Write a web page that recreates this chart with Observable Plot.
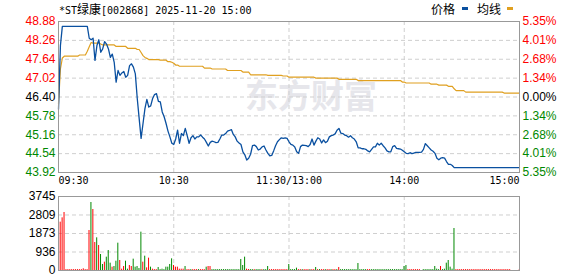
<!DOCTYPE html>
<html><head><meta charset="utf-8">
<script src="https://cdn.jsdelivr.net/npm/d3@7"></script>
<script src="https://cdn.jsdelivr.net/npm/@observablehq/plot@0.6"></script>
<style>
html,body{margin:0;padding:0;background:#fff;}
#wrap{position:relative;width:578px;height:276px;overflow:hidden;background:#fff;}
#title{position:absolute;left:59px;top:3px;line-height:12px;font-size:10px;font-family:"DejaVu Sans Mono",monospace;color:#000;white-space:nowrap;}
#title .cjk{font-family:"Noto Sans CJK SC";font-size:12px;}
.lg{position:absolute;top:2px;line-height:14px;font-family:"Noto Sans CJK SC";font-size:12px;color:#000;white-space:nowrap;}
.sw{position:absolute;top:7px;width:6px;height:3px;}
#p1{position:absolute;left:0;top:0;}
#p2{position:absolute;left:0;top:190px;}
</style>
</head><body>
<div id="wrap">
  <div id="title">*ST<span class="cjk">绿康</span>[002868] 2025-11-20 15:00</div>
  <div class="lg" style="left:431px">价格</div><div class="sw" style="left:462px;background:#0a50a0"></div>
  <div class="lg" style="left:477px">均线</div><div class="sw" style="left:507px;background:#e0a020"></div>
  <div id="p1"></div>
  <div id="p2"></div>
</div>
<script>
const prevClose = 46.40;
const priceTicks = [43.92, 44.54, 45.16, 45.78, 46.40, 47.02, 47.64, 48.26, 48.88];
const pctLabels = ["5.35%", "4.01%", "2.68%", "1.34%", "0.00%", "1.34%", "2.68%", "4.01%", "5.35%"];
const volTicks = [0, 936, 1873, 2809, 3745];
const timeLabels = ["09:30", "10:30", "11:30/13:00", "14:00", "15:00"];
const timeMinutes = [0, 60, 120, 180, 240];

const price = [
46.00,48.09,
48.72,48.72,48.72,48.72,48.72,48.72,48.72,48.72,48.72,48.72,48.72,48.72,48.72,48.72,
48.33,48.28,48.33,47.60,48.09,48.28,47.87,47.98,48.22,48.14,
47.98,47.70,47.81,47.54,46.89,47.27,47.11,47.19,47.24,47.05,
47.11,47.43,47.49,47.38,47.16,46.35,45.69,45.04,45.53,46.02,
46.32,46.07,46.11,46.35,46.48,46.51,46.26,46.24,45.91,45.75,
45.53,45.28,45.09,44.88,44.84,45.02,45.31,44.88,45.20,45.13,
45.37,45.13,44.88,45.06,45.13,45.02,45.09,45.09,45.15,45.08,
45.02,44.91,44.79,44.91,44.95,44.93,44.90,44.91,45.02,45.15,
45.15,45.20,45.28,45.30,45.33,45.17,45.09,44.95,44.89,44.84,
44.60,44.50,44.33,44.39,44.52,44.80,44.82,44.77,44.66,44.69,
44.76,44.79,44.66,44.55,44.47,44.48,44.63,44.80,44.93,45.00,
45.06,45.04,45.06,45.04,44.93,44.84,44.82,44.76,44.60,44.55,
44.77,44.82,44.81,44.80,44.77,44.84,45.02,44.82,44.95,45.06,
45.02,44.89,44.99,44.90,44.95,45.09,45.13,45.15,45.19,45.31,
45.37,45.21,45.20,45.15,45.13,45.08,45.13,45.06,45.02,44.93,
44.73,44.73,44.70,44.70,44.68,44.63,44.60,44.68,44.76,44.76,
44.88,44.82,44.88,44.80,44.73,44.63,44.60,44.60,44.77,44.80,
44.71,44.70,44.69,44.65,44.60,44.55,44.54,44.57,44.54,44.56,
44.58,44.58,44.58,44.59,44.68,44.87,44.80,44.73,44.66,44.62,
44.55,44.39,44.34,44.39,44.41,44.39,44.28,44.19,44.19,44.15,
44.08,44.08,44.08,44.08,44.08,44.08,44.08,44.08,44.08,44.08,
44.08,44.08,44.08,44.08,44.08,44.08,44.08,44.08,44.08,44.08,
44.08,44.08,44.08,44.08,44.08,44.08,44.08,44.08,44.08,44.08,
44.08,44.08,44.08,44.08,44.08
];

const avgPrice = [
46.18,47.32,47.68,
47.74,47.74,47.74,47.74,47.74,47.74,47.74,47.74,
47.78,47.78,47.78,47.78,
47.90,48.05,48.19,
48.17,48.17,48.17,48.17,
48.14,
48.11,48.11,48.11,48.11,48.11,48.11,48.11,
48.06,48.06,48.06,48.06,48.06,48.06,
48.00,48.00,48.00,48.00,48.00,
47.96,47.96,
47.86,47.76,47.70,47.67,
47.63,47.63,47.63,47.63,47.63,47.63,
47.61,47.61,47.61,47.61,
47.56,47.56,47.54,47.51,
47.45,47.45,
47.41,47.41,47.41,47.41,47.41,47.41,47.41,47.41,47.41,47.41,47.41,47.41,47.41,
47.35,47.35,47.35,47.35,
47.32,47.32,47.32,47.32,47.32,47.32,47.32,47.32,
47.27,47.27,47.27,47.27,47.27,47.27,47.27,47.27,
47.22,47.22,47.22,47.22,
47.13,47.13,47.13,47.13,47.13,47.13,47.13,47.13,47.13,
47.11,47.11,47.11,47.11,47.11,47.11,47.11,47.11,
47.09,47.09,47.09,
47.05,47.05,47.05,47.05,47.05,47.05,47.05,47.05,47.05,47.05,47.05,47.05,47.05,47.05,
47.02,47.02,47.02,47.02,47.02,47.02,47.02,47.02,47.02,47.02,47.02,47.02,
46.98,46.98,46.98,46.98,46.98,46.98,46.98,46.98,46.98,46.98,
46.94,46.94,46.94,46.94,46.94,46.94,46.94,46.94,46.94,46.94,46.94,46.94,
46.94,46.94,46.94,46.94,46.94,46.94,46.94,46.94,46.94,46.94,46.94,
46.89,46.89,
46.86,46.86,46.86,46.86,46.86,46.86,46.86,46.86,46.86,46.86,46.86,46.86,46.86,
46.82,46.82,46.82,46.82,
46.79,46.79,46.79,46.79,46.79,
46.75,46.75,46.75,
46.67,
46.61,46.61,46.61,46.61,46.61,
46.56,46.56,46.56,46.56,46.56,46.56,46.56,46.56,46.56,46.56,
46.56,46.56,46.56,46.56,46.56,46.56,46.56,46.56,46.56,46.56,
46.53,46.53,46.53,46.53,46.53,46.53,46.53,46.53,46.53
];

const volume = [
2446,2665,2935,
45,45,45,45,45,45,45,45,45,85,45,45,
2024,3441,3087,1417,1653,1265,810,304,422,675,
1012,371,169,202,472,1383,506,67,202,472,
67,253,202,574,169,202,100,1940,422,725,
135,624,169,67,
45,45,152,45,67,45,169,169,304,590,
253,169,169,67,67,67,202,
45,45,45,45,45,45,45,45,45,45,
169,202,202,
45,45,45,45,45,45,45,45,45,45,45,45,45,45,45,
557,253,675,67,50,
45,45,45,45,45,45,45,45,45,
202,
45,45,45,45,45,45,45,45,45,45,
304,
45,45,45,118,
45,45,45,45,45,45,45,45,45,
152,
45,45,45,45,45,45,45,45,45,45,45,
152,
45,45,45,45,45,45,45,45,45,
354,
45,45,45,45,45,45,45,45,45,45,45,45,45,45,45,45,45,45,45,45,45,45,45,
202,253,
45,45,45,45,45,45,45,
0,
45,45,45,45,45,45,
202,67,45,202,45,67,371,506,169,67,2125,
45,45,45,45,45,45,45,45,45,45,45,45,45,45,45,45,45,45,45,45,45,45,45,45,45,45,45,45,45,
0,0,0,0,
45,0
];

// 1 = red (up) bar, 0 = green (down) bar
const volUp = [
1,1,1,
1,1,1,1,1,1,1,1,1,1,1,1,
1,0,1,1,0,1,0,0,1,0,
0,0,1,0,0,0,1,1,1,0,
0,1,1,0,0,0,0,0,1,0,
1,1,0,1,
1,1,0,0,0,0,0,0,0,0,
1,1,1,1,1,1,0,
1,1,0,1,1,1,0,1,1,1,
0,1,1,
0,0,0,0,0,0,0,0,0,0,0,0,0,0,0,
0,0,0,1,1,
0,0,1,0,0,0,1,0,0,
0,
1,1,1,1,1,1,1,1,1,1,
0,
0,0,0,0,
1,1,0,1,1,1,0,1,1,
0,
1,0,1,1,0,1,1,0,1,1,0,
1,
0,0,0,0,0,0,0,0,0,
0,
0,0,0,0,1,1,0,0,0,0,0,0,0,0,0,0,0,0,0,0,0,0,0,
0,0,
1,1,1,1,1,1,1,
1,
0,0,0,0,0,0,
0,0,0,1,0,0,0,0,0,0,0,
1,1,1,1,1,1,1,1,1,1,1,1,1,1,1,1,1,1,1,1,1,1,1,1,1,1,1,1,1,
1,1,1,1,
1,1
];

[price, avgPrice, volume, volUp].forEach((a, k) => { if (a.length !== 241) throw new Error("array " + k + " has length " + a.length); });

const RED = "#ff0000", GREEN = "#008800", BLUE = "#0a50a0", GOLD = "#e0a020";
const GRID = "#cfcfcf", FRAME = "#999999";
const NUMFONT = "Liberation Sans, Arial, sans-serif";
const MONO = "DejaVu Sans Mono, monospace";
const idx = d3.range(price.length);
const tickColor = d => Math.abs(d - prevClose) < 1e-9 ? "#000" : (d > prevClose ? RED : GREEN);
const gridMinutes = timeMinutes.slice(1, -1);
const times = timeMinutes.map((m, i) => ({m, label: timeLabels[i]}));

const common = {
  width: 578, marginLeft: 58, marginRight: 59,
  x: {domain: [0, 240], axis: null},
  style: {background: "transparent", fontFamily: NUMFONT, fontSize: "12px", overflow: "visible"}
};

const p1 = Plot.plot({
  ...common,
  height: 190, marginTop: 21, marginBottom: 18,
  y: {domain: [43.92, 48.88], axis: null},
  marks: [
    Plot.text(["东方财富"], {frameAnchor: "middle", dx: 22, fill: "#e6e6eb", fontSize: 33, fontWeight: "bold", fontFamily: "Noto Sans CJK SC"}),
    Plot.ruleY(priceTicks.slice(1, -1), {stroke: GRID, strokeDasharray: "4,3"}),
    Plot.ruleX(gridMinutes, {stroke: GRID, strokeDasharray: "4,3"}),
    Plot.line(idx, {x: i => i, y: i => avgPrice[i], stroke: GOLD, strokeWidth: 1.2}),
    Plot.line(idx, {x: i => i, y: i => price[i], stroke: BLUE, strokeWidth: 1.3}),
    Plot.frame({stroke: FRAME}),
    Plot.text(priceTicks, {y: d => d, frameAnchor: "left", textAnchor: "end", dx: -3, text: d => d.toFixed(2), fill: d => tickColor(d)}),
    Plot.text(priceTicks, {y: d => d, frameAnchor: "right", textAnchor: "start", dx: 3, text: (d, i) => pctLabels[i], fill: d => tickColor(d)}),
    Plot.text(times.slice(0, 1), {x: "m", text: "label", frameAnchor: "bottom", dy: 11, textAnchor: "start", fontFamily: MONO, fontSize: 10, fill: "#000"}),
    Plot.text(times.slice(1, -1), {x: "m", text: "label", frameAnchor: "bottom", dy: 11, textAnchor: "middle", fontFamily: MONO, fontSize: 10, fill: "#000"}),
    Plot.text(times.slice(-1), {x: "m", text: "label", frameAnchor: "bottom", dy: 11, textAnchor: "end", fontFamily: MONO, fontSize: 10, fill: "#000"})
  ]
});
document.getElementById("p1").appendChild(p1);

const p2 = Plot.plot({
  ...common,
  height: 86, marginTop: 6, marginBottom: 6,
  y: {domain: [0, 3745], axis: null},
  color: {type: "identity"},
  marks: [
    Plot.ruleY(volTicks.slice(1, -1), {stroke: GRID, strokeDasharray: "4,3"}),
    Plot.ruleX(gridMinutes, {stroke: GRID, strokeDasharray: "4,3"}),
    Plot.ruleX(idx.filter(i => volume[i] > 0), {x: i => i, y1: 0, y2: i => volume[i], stroke: i => volUp[i] ? RED : GREEN, strokeWidth: 1, dx: 1.7}),
    Plot.frame({stroke: FRAME}),
    Plot.text(volTicks, {y: d => d, frameAnchor: "left", textAnchor: "end", dx: -3, text: d => String(d), fill: "#000"})
  ]
});
document.getElementById("p2").appendChild(p2);
</script>
</body></html>
